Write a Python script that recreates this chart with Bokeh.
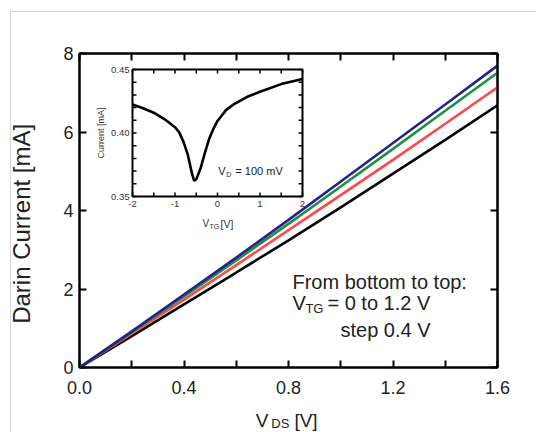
import math
from bokeh.plotting import figure
from bokeh.models import Range1d, FixedTicker, LinearAxis, Label, NumeralTickFormatter
from bokeh.embed import file_html
from bokeh.resources import INLINE

FONT = "Liberation Sans"

# ---- main data ----
vds = [0.0, 0.2, 0.4, 0.6, 0.8, 1.0, 1.2, 1.4, 1.6]
id_vtg0 = [0.0, 0.80, 1.61, 2.42, 3.24, 4.08, 4.94, 5.80, 6.68]
id_vtg04 = [0.0, 0.86, 1.73, 2.61, 3.50, 4.39, 5.29, 6.21, 7.14]
id_vtg08 = [0.0, 0.90, 1.81, 2.73, 3.66, 4.61, 5.57, 6.54, 7.51]
id_vtg12 = [0.0, 0.92, 1.86, 2.80, 3.76, 4.74, 5.72, 6.70, 7.69]
series_colors = ["#000000", "#ff4848", "#1d8f45", "#23238a"]

x_major = [0.0, 0.4, 0.8, 1.2, 1.6]
x_minor = [0.2, 0.6, 1.0, 1.4]
y_major = [0, 2, 4, 6, 8]

# ---- inset data ----
vtg = [-2.0, -1.75, -1.5, -1.25, -1.0, -0.9, -0.8, -0.7, -0.6, -0.55, -0.5, -0.4,
       -0.3, -0.2, -0.1, 0.0, 0.2, 0.4, 0.7, 1.0, 1.5, 2.0]
i_inset = [0.4225, 0.4195, 0.4160, 0.4110, 0.4045, 0.4005, 0.3930, 0.3830, 0.3680,
           0.3625, 0.3635, 0.3720, 0.3840, 0.3950, 0.4030, 0.4095, 0.4180, 0.4230,
           0.4285, 0.4325, 0.4385, 0.4425]
ix_lim = (-2.0, 2.0)
iy_lim = (0.35, 0.45)
ix_major = [-2, -1, 0, 1, 2]
ix_minor = [-1.5, -0.5, 0.5, 1.5]
iy_major = [0.35, 0.40, 0.45]
iy_minor = [0.36, 0.37, 0.38, 0.39, 0.41, 0.42, 0.43, 0.44]
ix_labels = ["-2", "-1", "0", "1", "2"]
iy_labels = ["0.35", "0.40", "0.45"]

# ---- layout constants (x positions of the pieces of the x-axis title) ----
XT_V, XT_DS, XT_BR = 0.6986, 0.769, 0.867

# ================= main figure =================
p = figure(frame_width=418, frame_height=314, x_range=Range1d(0, 1.6), y_range=Range1d(0, 8),
           toolbar_location=None, output_backend="svg",
           min_border_left=79, min_border_right=39, min_border_top=53, min_border_bottom=65)
p.grid.visible = False
p.outline_line_color = "black"
p.outline_line_width = 2
p.background_fill_color = "white"
p.border_fill_alpha = 0
p.styles = {
    "background-color": "white",
    "background-image": "linear-gradient(#d6d6d6, #d6d6d6), linear-gradient(#d6d6d6, #d6d6d6)",
    "background-size": "1px 100%, 100% 1px",
    "background-position": "10px 11px, 10px 11px",
    "background-repeat": "no-repeat",
}

def style_axis(ax, ticker, fs="18px", labels=True, tick_in=7):
    ax.ticker = ticker
    ax.axis_line_width = 2
    ax.axis_line_color = "black"
    ax.major_tick_in = tick_in
    ax.major_tick_out = 0
    ax.minor_tick_in = tick_in
    ax.minor_tick_out = 0
    ax.major_tick_line_width = 2
    ax.minor_tick_line_width = 2
    ax.major_label_text_font = FONT
    ax.major_label_text_font_size = fs
    ax.major_label_text_color = "#222222"
    if not labels:
        ax.major_label_text_font_size = "0px"
        ax.major_label_text_alpha = 0

style_axis(p.xaxis[0], FixedTicker(ticks=x_major, minor_ticks=x_minor))
p.xaxis[0].formatter = NumeralTickFormatter(format="0.0")
p.xaxis[0].major_label_standoff = 13
style_axis(p.yaxis[0], FixedTicker(ticks=y_major, minor_ticks=[]))
p.yaxis[0].major_label_standoff = 6
p.yaxis[0].axis_label = "Darin Current [mA]" + "\u00a0" * 4
p.yaxis[0].axis_label_text_font = FONT
p.yaxis[0].axis_label_text_font_size = "24px"
p.yaxis[0].axis_label_text_font_style = "normal"
p.yaxis[0].axis_label_text_color = "#222222"
p.yaxis[0].axis_label_standoff = 25

top_ax = LinearAxis()
style_axis(top_ax, FixedTicker(ticks=x_major, minor_ticks=x_minor), labels=False)
p.add_layout(top_ax, "above")
right_ax = LinearAxis()
style_axis(right_ax, FixedTicker(ticks=y_major, minor_ticks=[]), labels=False)
p.add_layout(right_ax, "right")

# x-axis title "V_DS [V]" built from two label-only axes
def title_axis(ticks, texts, fs, standoff):
    ax = LinearAxis(ticker=FixedTicker(ticks=ticks, minor_ticks=[]),
                    major_label_overrides={t: s for t, s in zip(ticks, texts)})
    ax.axis_line_alpha = 0
    ax.major_tick_in = 0
    ax.major_tick_out = 0
    ax.minor_tick_in = 0
    ax.minor_tick_out = 0
    ax.major_label_text_font = FONT
    ax.major_label_text_font_size = fs
    ax.major_label_text_color = "#222222"
    ax.major_label_standoff = standoff
    p.add_layout(ax, "below")

title_axis([XT_V, XT_BR], ["V", "[V]"], "19px", 13)
title_axis([XT_DS], ["DS"], "13px", -18)

for ys, c in zip([id_vtg0, id_vtg04, id_vtg08, id_vtg12], series_colors):
    p.line(vds, ys, line_color=c, line_width=2.6)

def lab(x, y, text, fs, xo=0, yo=0, color="#222222", rng=None, angle=0,
        align="left", baseline="alphabetic"):
    kw = {}
    if rng:
        kw = dict(x_range_name="ix", y_range_name="iy")
    p.add_layout(Label(x=x, y=y, text=text, x_offset=xo, y_offset=yo,
                       text_font=FONT, text_font_size=fs, text_color=color,
                       text_baseline=baseline, text_align=align, angle=angle, **kw))

# annotation text
lab(0.815, 2.191, "From bottom to top:", "20px")
lab(0.815, 1.631, "V", "20px")
lab(0.815, 1.631, "TG", "13px", xo=13, yo=-5)
lab(0.815, 1.631, "= 0 to 1.2 V", "20px", xo=35)
lab(0.999, 0.943, "step 0.4 V", "20px")

# ================= inset (own scales via extra ranges) =================
# inset frame occupies pixels 132..302 (x) and 69..196 (y) of the picture
px_per_x = 170 / (ix_lim[1] - ix_lim[0])
px_per_y = 127 / (iy_lim[1] - iy_lim[0])
p.extra_x_ranges = {"ix": Range1d(ix_lim[0] - 53 / px_per_x, ix_lim[1] + 195 / px_per_x)}
p.extra_y_ranges = {"iy": Range1d(iy_lim[0] - 171 / px_per_y, iy_lim[1] + 16 / px_per_y)}
R = dict(x_range_name="ix", y_range_name="iy")

p.quad(left=[ix_lim[0]], right=[ix_lim[1]], bottom=[iy_lim[0]], top=[iy_lim[1]],
       fill_color="white", line_color="black", line_width=2, **R)

tl = 4
xt_all = ix_major + ix_minor
yt_all = iy_major + iy_minor
p.ray(x=xt_all, y=[iy_lim[0]] * len(xt_all), length=tl, length_units="screen",
      angle=math.pi / 2, line_color="black", line_width=1.5, **R)
p.ray(x=xt_all, y=[iy_lim[1]] * len(xt_all), length=tl, length_units="screen",
      angle=-math.pi / 2, line_color="black", line_width=1.5, **R)
p.ray(x=[ix_lim[0]] * len(yt_all), y=yt_all, length=tl, length_units="screen",
      angle=0, line_color="black", line_width=1.5, **R)
p.ray(x=[ix_lim[1]] * len(yt_all), y=yt_all, length=tl, length_units="screen",
      angle=math.pi, line_color="black", line_width=1.5, **R)

p.line(vtg, i_inset, line_color="black", line_width=2.6, **R)

for xv, t in zip(ix_major, ix_labels):
    lab(xv, iy_lim[0], t, "9.5px", yo=-4, color="#333333", rng=True, align="center",
        baseline="top")
for yv, t in zip(iy_major, iy_labels):
    lab(ix_lim[0], yv, t, "9.5px", xo=-3, color="#333333", rng=True, align="right",
        baseline="middle")
lab(ix_lim[0], (iy_lim[0] + iy_lim[1]) / 2, "Current [mA]", "9px", xo=-32,
    color="#333333", rng=True, angle=math.pi / 2, align="center", baseline="middle")

lab(0.02, 0.3697, "V", "11px", rng=True)
lab(0.02, 0.3697, "D", "7px", xo=8, yo=-3, rng=True)
lab(0.02, 0.3697, "= 100 mV", "11px", xo=17, rng=True)

lab(-0.353, 0.3287, "V", "10px", color="#333333", rng=True)
lab(-0.353, 0.3287, "TG", "7px", xo=7, yo=-3, color="#333333", rng=True)
lab(-0.353, 0.3287, "[V]", "10.5px", xo=18, color="#333333", rng=True)

open("out.html", "w").write(file_html(p, INLINE))
